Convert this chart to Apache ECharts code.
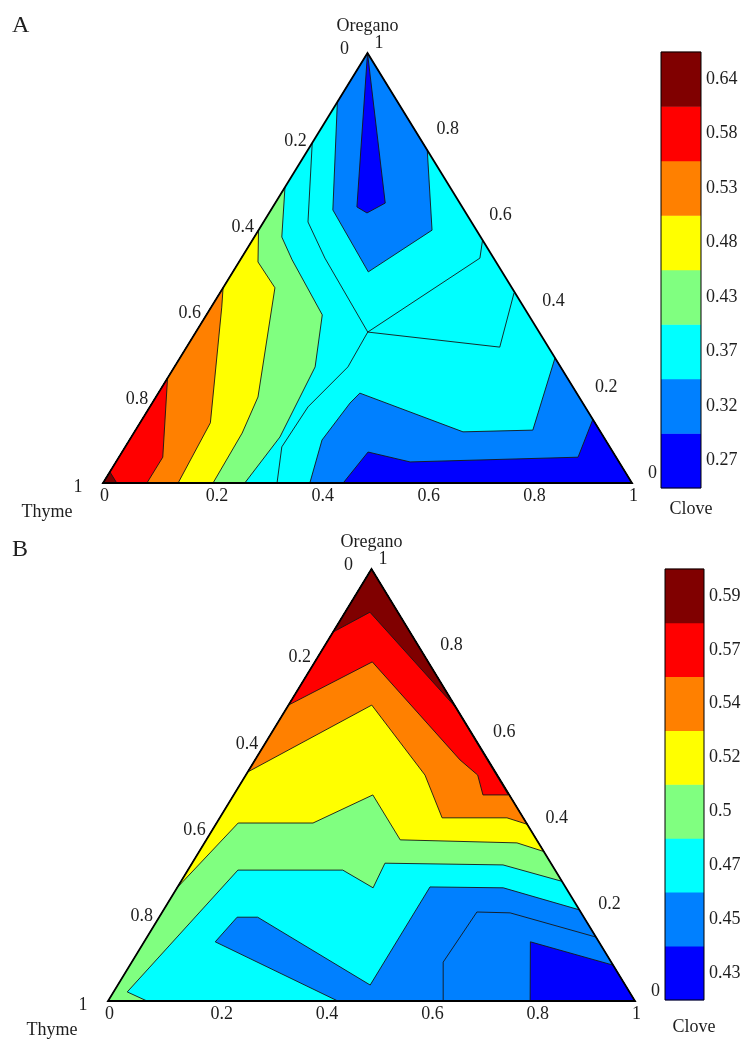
<!DOCTYPE html>
<html><head><meta charset="utf-8">
<script src="https://cdn.jsdelivr.net/npm/echarts/dist/echarts.min.js"></script>
<style>html,body{margin:0;padding:0;background:#fff}#c{width:750px;height:1041px}</style>
</head><body><div id="c"></div>
<script>
// MATLAB jet(8) colours, lowest level first
const jetColors = ['#0000ff','#0080ff','#00ffff','#80ff80','#ffff00','#ff8000','#ff0000','#800000'];
// colorbar tick labels (bottom to top)
const levelsA = ['0.27','0.32','0.37','0.43','0.48','0.53','0.58','0.64'];
const levelsB = ['0.43','0.45','0.47','0.5','0.52','0.54','0.57','0.59'];
// ternary axis ticks
const ticks = [0, 0.2, 0.4, 0.6, 0.8, 1];
const tickLabels = ['0', '0.2', '0.4', '0.6', '0.8', '1'];
const componentNames = {top: 'Oregano', left: 'Thyme', right: 'Clove'};

// Region vertices as compositions [clove, oregano] (thyme = 1 - clove - oregano)
const triangleCorners = [[0,0],[1,0],[0,1]];
// Panel A
const aBlueTop = [[0,1],[0,0.886],[0.117,0.635],[0.256,0.491],[0.328,0.588],[0.226,0.774]];
const aDarkSpike = [[0,1],[0.159,0.642],[0.185,0.628],[0.208,0.651]];
const aBlueBottom = [[0.391,0],[0.364,0.1],[0.374,0.186],[0.381,0.209],[0.621,0.119],[0.751,0.123],[0.709,0.291],[1,0]];
const aDarkBottom = [[0.454,0],[0.465,0.072],[0.556,0.049],[0.868,0.06],[0.852,0.148],[1,0]];
const aGreen = [[0,0.688],[0.052,0.572],[0.098,0.519],[0.219,0.391],[0.266,0.27],[0.281,0.107],[0.268,0],[0,0]];
const aYellow = [[0,0.588],[0.036,0.514],[0.098,0.454],[0.193,0.2],[0.205,0.116],[0.208,0],[0,0]];
const aOrange = [[0,0.454],[0.02,0.409],[0.133,0.14],[0.142,0],[0,0]];
const aRed = [[0,0.244],[0.083,0.06],[0.083,0],[0,0]];
const aDarkRed = [[0,0.026],[0.026,0],[0,0]];
const aLine1 = [[0,0.791],[0.084,0.607],[0.158,0.523],[0.325,0.351]];
const aLine2 = [[0.435,0.565],[0.451,0.523],[0.325,0.351]];
const aLine3 = [[0.325,0.351],[0.328,0.27],[0.299,0.177],[0.296,0.084],[0.329,0]];
const aLine4 = [[0.325,0.351],[0.592,0.316],[0.556,0.442]];
// Panel B
const bGreen = [[0.074,0],[0.026,0.021],[0.095,0.303],[0.294,0.303],[0.372,0.262],[0.366,0.319],[0.592,0.315],[0.723,0.277],[0,1],[0,0]];
const bYellow = [[0,0.262],[0.041,0.412],[0.183,0.412],[0.264,0.477],[0.368,0.373],[0.593,0.366],[0.654,0.346],[0,1]];
const bOrange = [[0,0.53],[0.158,0.685],[0.34,0.523],[0.422,0.424],[0.545,0.424],[0.591,0.409],[0,1]];
const bRed = [[0,0.685],[0.109,0.785],[0.389,0.558],[0.44,0.523],[0.473,0.477],[0.521,0.477],[0,1]];
const bDarkRed = [[0,0.854],[0.047,0.9],[0.322,0.678],[0,1]];
const bBlue = [[0.135,0.137],[0.148,0.194],[0.187,0.194],[0.479,0.037],[0.479,0.264],[0.619,0.262],[0.789,0.211],[1,0],[0.436,0]];
const bDarkBlue = [[0.733,0.137],[0.801,0],[1,0],[0.917,0.083]];
const bLine1 = [[0.636,0],[0.591,0.09],[0.597,0.206],[0.661,0.204],[0.852,0.148]];

// painting order: [vertices, colour level index]
const regionsA = [[triangleCorners,2],[aBlueTop,1],[aDarkSpike,0],[aBlueBottom,1],[aDarkBottom,0],[aGreen,3],[aYellow,4],[aOrange,5],[aRed,6],[aDarkRed,7]];
const linesA = [aLine1, aLine2, aLine3, aLine4];
const regionsB = [[triangleCorners,2],[bGreen,3],[bYellow,4],[bOrange,5],[bRed,6],[bDarkRed,7],[bBlue,1],[bDarkBlue,0]];
const linesB = [bLine1];

const FONT = '"Liberation Serif","Times New Roman",serif';
const TXT = '#1e1e1e';
function tern(p){ return [p[0] + p[1] / 2, p[1]]; }

function triangleSeries(gi, regions, lines){
  const common = {type:'custom', xAxisIndex:gi, yAxisIndex:gi, silent:true, animation:false};
  const s = [];
  s.push(Object.assign({}, common, {z:2,
    data: regions.map(r => tern(r[0][0])),
    renderItem: (params, api) => {
      const r = regions[params.dataIndex];
      return {type:'polygon', shape:{points:r[0].map(p => api.coord(tern(p)))},
        style:{fill:jetColors[r[1]], stroke: params.dataIndex === 0 ? null : '#161616', lineWidth:0.9, lineJoin:'round'}};
    }}));
  s.push(Object.assign({}, common, {z:3,
    data: lines.map(l => tern(l[0])),
    renderItem: (params, api) => ({type:'polyline', shape:{points:lines[params.dataIndex].map(p => api.coord(tern(p)))},
        style:{fill:null, stroke:'#161616', lineWidth:0.9}})}));
  s.push(Object.assign({}, common, {z:4, data:[tern(triangleCorners[0])],
    renderItem: (params, api) => ({type:'polygon', shape:{points:triangleCorners.map(p => api.coord(tern(p)))},
        style:{fill:null, stroke:'#000', lineWidth:1.8, lineJoin:'miter'}})}));
  // tick labels
  const labels = [];
  ticks.forEach((t, i) => {
    const atApexL = t === 0, atCornerL = t === 1, atApexR = t === 1;
    labels.push({p:[0, 1 - t], text:tickLabels[i], dx: atApexL ? -23 : (atCornerL ? -25 : -19), dy: atApexL ? -4 : (atCornerL ? 4 : 2), align:'center'}); // Thyme (left edge)
    labels.push({p:[1 - t, t], text:tickLabels[i], dx: atApexR ? 7 : 16, dy:-10, align:'left'});   // Oregano (right edge)
    labels.push({p:[t, 0], text:tickLabels[i], dx:-3, dy:13, align:'left'});                       // Clove (bottom edge)
  });
  labels.push({p:[0,1], text:componentNames.top, dx:0, dy:-27, align:'center'});
  labels.push({p:[0,0], text:componentNames.left, dx:-56, dy:29, align:'center'});
  labels.push({p:[1,0], text:componentNames.right, dx:59, dy:26, align:'center'});
  s.push(Object.assign({}, common, {z:5, data: labels.map(l => tern(l.p)),
    renderItem: (params, api) => {
      const l = labels[params.dataIndex];
      const c = api.coord(tern(l.p));
      return {type:'text', x:c[0] + l.dx, y:c[1] + l.dy,
        style:{text:l.text, fill:TXT, fontSize:18, fontFamily:FONT, align:l.align, verticalAlign:'middle'}};
    }}));
  return s;
}

function colorbarSeries(gi, levels){
  const common = {type:'custom', xAxisIndex:gi, yAxisIndex:gi, silent:true, animation:false};
  return [
    Object.assign({}, common, {z:2, data: levels.map(l => [0.5, l]),
      renderItem: (params, api) => {
        const c = api.coord([0.5, api.value(1)]);
        const sz = api.size([1, 1]);
        return {type:'rect', shape:{x:c[0] - sz[0] / 2, y:c[1] - sz[1] / 2 - 0.3, width:sz[0], height:sz[1] + 0.6},
          style:{fill:jetColors[params.dataIndex]}};
      }}),
    Object.assign({}, common, {z:3, data:[[0.5, levels[0]]],
      renderItem: (params) => ({type:'rect', shape:{x:params.coordSys.x, y:params.coordSys.y, width:params.coordSys.width, height:params.coordSys.height},
        style:{fill:null, stroke:'#000', lineWidth:1}})})
  ];
}

const hiddenVal = {type:'value', min:0, max:1, show:false};
function cbY(levels, gi){
  return {type:'category', gridIndex:gi, data:levels, position:'right', boundaryGap:true,
    axisLine:{show:false}, axisTick:{show:false}, splitLine:{show:false},
    axisLabel:{fontSize:18, fontFamily:FONT, color:TXT, margin:5}};
}

const option = {
  backgroundColor:'#fff',
  animation:false,
  grid:[
    {left:103, top:53, width:529, height:430},
    {left:108, top:569, width:527, height:432},
    {left:661, top:52, width:40, height:436},
    {left:665, top:569, width:39, height:431}
  ],
  xAxis:[
    Object.assign({gridIndex:0}, hiddenVal), Object.assign({gridIndex:1}, hiddenVal),
    Object.assign({gridIndex:2}, hiddenVal), Object.assign({gridIndex:3}, hiddenVal)
  ],
  yAxis:[
    Object.assign({gridIndex:0}, hiddenVal), Object.assign({gridIndex:1}, hiddenVal),
    cbY(levelsA, 2), cbY(levelsB, 3)
  ],
  graphic:[
    {type:'text', left:12, top:14, style:{text:'A', fontSize:24, fontFamily:FONT, fill:TXT}},
    {type:'text', left:12, top:538, style:{text:'B', fontSize:24, fontFamily:FONT, fill:TXT}}
  ],
  series:[].concat(
    triangleSeries(0, regionsA, linesA),
    triangleSeries(1, regionsB, linesB),
    colorbarSeries(2, levelsA),
    colorbarSeries(3, levelsB)
  )
};
const chart = echarts.init(document.getElementById('c'));
chart.setOption(option);
</script>
</body></html>
